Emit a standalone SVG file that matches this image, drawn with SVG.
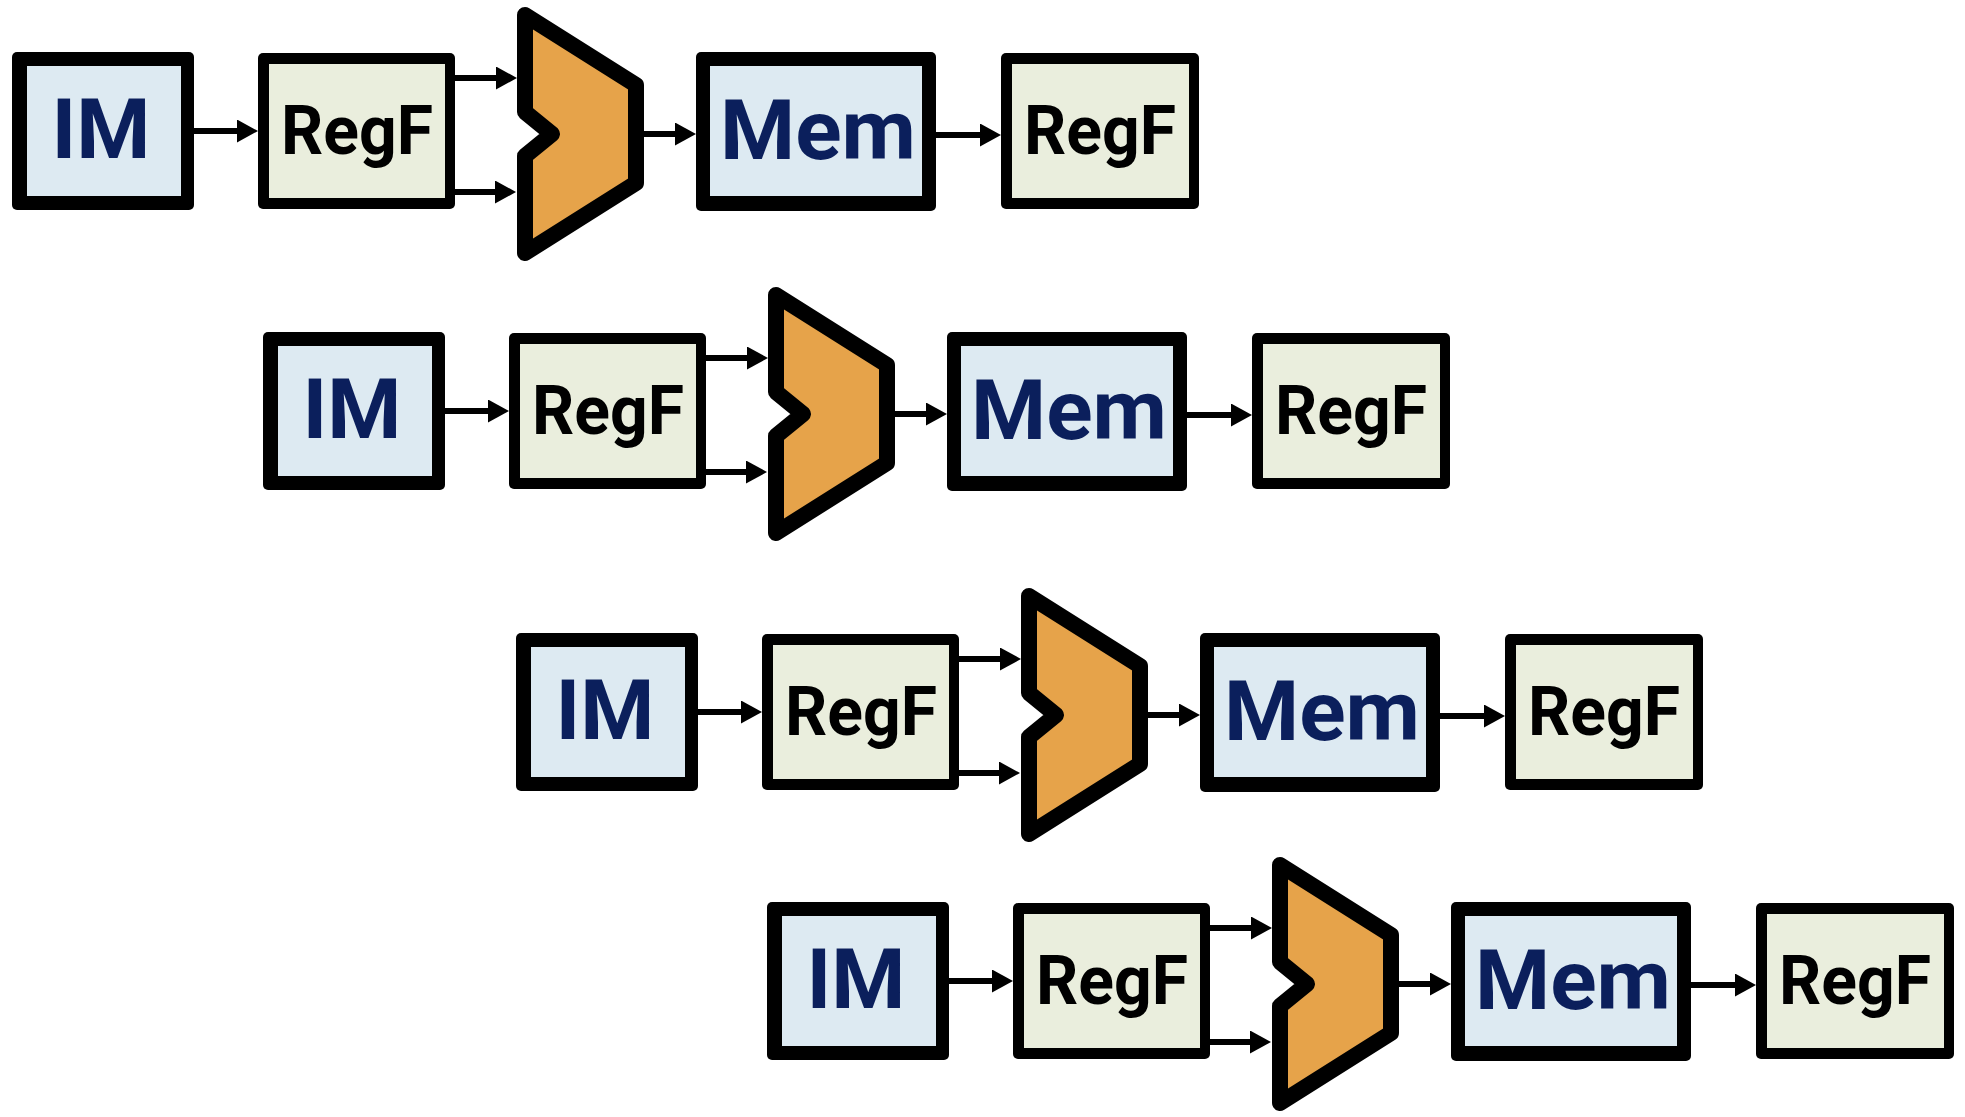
<svg xmlns="http://www.w3.org/2000/svg" width="1965" height="1117" viewBox="0 0 1965 1117">
<defs>
<style>
.frame{fill:#000}
.blue{fill:#ddeaf2}
.green{fill:#eaeedd}
.alu{fill:#e6a34a;stroke:#000;stroke-width:16;stroke-linejoin:round}
.lbl{font-family:Roboto,"DejaVu Sans",sans-serif;font-weight:700;text-anchor:middle}
.nav{fill:#0b1f5c;font-size:84px}
.blk{fill:#000;font-size:68px}
.wire{stroke:#000;stroke-width:6;fill:none;marker-end:url(#ah)}
</style>
<marker id="ah" markerUnits="userSpaceOnUse" viewBox="0 0 21 23" refX="5" refY="11.5" markerWidth="21" markerHeight="23" orient="auto">
<path d="M0,0 L21,11.5 L0,23 z" fill="#000"/>
</marker>
</defs>
<rect width="1965" height="1117" fill="#fff"/>

<g id="row1">
  <g id="im1"><rect class="frame" x="12" y="52" width="182" height="158" rx="5"/><rect class="blue" x="27" y="66" width="154" height="130"/><text class="lbl nav" x="101" y="158" textLength="99" lengthAdjust="spacingAndGlyphs">IM</text></g>
  <g id="regf1a"><rect class="frame" x="258" y="53" width="197" height="156" rx="5"/><rect class="green" x="269" y="64" width="176" height="134"/><text class="lbl blk" x="357" y="154" textLength="152" lengthAdjust="spacingAndGlyphs">RegF</text></g>
  <g id="alu1"><polygon class="alu" points="525,15 636,85 636,183 525,253 525,156 552,134 525,112"/></g>
  <g id="mem1"><rect class="frame" x="696" y="52" width="240" height="159" rx="5"/><rect class="blue" x="710" y="66" width="212" height="130"/><text class="lbl nav" x="818" y="159" textLength="196" lengthAdjust="spacingAndGlyphs">Mem</text></g>
  <g id="regf1b"><rect class="frame" x="1001" y="53" width="198" height="156" rx="5"/><rect class="green" x="1012" y="64" width="177" height="134"/><text class="lbl blk" x="1100" y="154" textLength="152" lengthAdjust="spacingAndGlyphs">RegF</text></g>
</g>

<g id="row2" transform="translate(251,280)">
  <g id="im2"><rect class="frame" x="12" y="52" width="182" height="158" rx="5"/><rect class="blue" x="27" y="66" width="154" height="130"/><text class="lbl nav" x="101" y="158" textLength="99" lengthAdjust="spacingAndGlyphs">IM</text></g>
  <g id="regf2a"><rect class="frame" x="258" y="53" width="197" height="156" rx="5"/><rect class="green" x="269" y="64" width="176" height="134"/><text class="lbl blk" x="357" y="154" textLength="152" lengthAdjust="spacingAndGlyphs">RegF</text></g>
  <g id="alu2"><polygon class="alu" points="525,15 636,85 636,183 525,253 525,156 552,134 525,112"/></g>
  <g id="mem2"><rect class="frame" x="696" y="52" width="240" height="159" rx="5"/><rect class="blue" x="710" y="66" width="212" height="130"/><text class="lbl nav" x="818" y="159" textLength="196" lengthAdjust="spacingAndGlyphs">Mem</text></g>
  <g id="regf2b"><rect class="frame" x="1001" y="53" width="198" height="156" rx="5"/><rect class="green" x="1012" y="64" width="177" height="134"/><text class="lbl blk" x="1100" y="154" textLength="152" lengthAdjust="spacingAndGlyphs">RegF</text></g>
</g>

<g id="row3" transform="translate(504,581)">
  <g id="im3"><rect class="frame" x="12" y="52" width="182" height="158" rx="5"/><rect class="blue" x="27" y="66" width="154" height="130"/><text class="lbl nav" x="101" y="158" textLength="99" lengthAdjust="spacingAndGlyphs">IM</text></g>
  <g id="regf3a"><rect class="frame" x="258" y="53" width="197" height="156" rx="5"/><rect class="green" x="269" y="64" width="176" height="134"/><text class="lbl blk" x="357" y="154" textLength="152" lengthAdjust="spacingAndGlyphs">RegF</text></g>
  <g id="alu3"><polygon class="alu" points="525,15 636,85 636,183 525,253 525,156 552,134 525,112"/></g>
  <g id="mem3"><rect class="frame" x="696" y="52" width="240" height="159" rx="5"/><rect class="blue" x="710" y="66" width="212" height="130"/><text class="lbl nav" x="818" y="159" textLength="196" lengthAdjust="spacingAndGlyphs">Mem</text></g>
  <g id="regf3b"><rect class="frame" x="1001" y="53" width="198" height="156" rx="5"/><rect class="green" x="1012" y="64" width="177" height="134"/><text class="lbl blk" x="1100" y="154" textLength="152" lengthAdjust="spacingAndGlyphs">RegF</text></g>
</g>

<g id="row4" transform="translate(755,850)">
  <g id="im4"><rect class="frame" x="12" y="52" width="182" height="158" rx="5"/><rect class="blue" x="27" y="66" width="154" height="130"/><text class="lbl nav" x="101" y="158" textLength="99" lengthAdjust="spacingAndGlyphs">IM</text></g>
  <g id="regf4a"><rect class="frame" x="258" y="53" width="197" height="156" rx="5"/><rect class="green" x="269" y="64" width="176" height="134"/><text class="lbl blk" x="357" y="154" textLength="152" lengthAdjust="spacingAndGlyphs">RegF</text></g>
  <g id="alu4"><polygon class="alu" points="525,15 636,85 636,183 525,253 525,156 552,134 525,112"/></g>
  <g id="mem4"><rect class="frame" x="696" y="52" width="240" height="159" rx="5"/><rect class="blue" x="710" y="66" width="212" height="130"/><text class="lbl nav" x="818" y="159" textLength="196" lengthAdjust="spacingAndGlyphs">Mem</text></g>
  <g id="regf4b"><rect class="frame" x="1001" y="53" width="198" height="156" rx="5"/><rect class="green" x="1012" y="64" width="177" height="134"/><text class="lbl blk" x="1100" y="154" textLength="152" lengthAdjust="spacingAndGlyphs">RegF</text></g>
</g>

<g id="connectors">
  <g transform="translate(0,0)">
    <path class="wire" d="M194,131 H242"/><path class="wire" d="M455,78 H501"/><path class="wire" d="M455,192 H500"/><path class="wire" d="M644,134 H680"/><path class="wire" d="M936,135 H985"/>
  </g>
  <g transform="translate(251,280)">
    <path class="wire" d="M194,131 H242"/><path class="wire" d="M455,78 H501"/><path class="wire" d="M455,192 H500"/><path class="wire" d="M644,134 H680"/><path class="wire" d="M936,135 H985"/>
  </g>
  <g transform="translate(504,581)">
    <path class="wire" d="M194,131 H242"/><path class="wire" d="M455,78 H501"/><path class="wire" d="M455,192 H500"/><path class="wire" d="M644,134 H680"/><path class="wire" d="M936,135 H985"/>
  </g>
  <g transform="translate(755,850)">
    <path class="wire" d="M194,131 H242"/><path class="wire" d="M455,78 H501"/><path class="wire" d="M455,192 H500"/><path class="wire" d="M644,134 H680"/><path class="wire" d="M936,135 H985"/>
  </g>
</g>
</svg>
